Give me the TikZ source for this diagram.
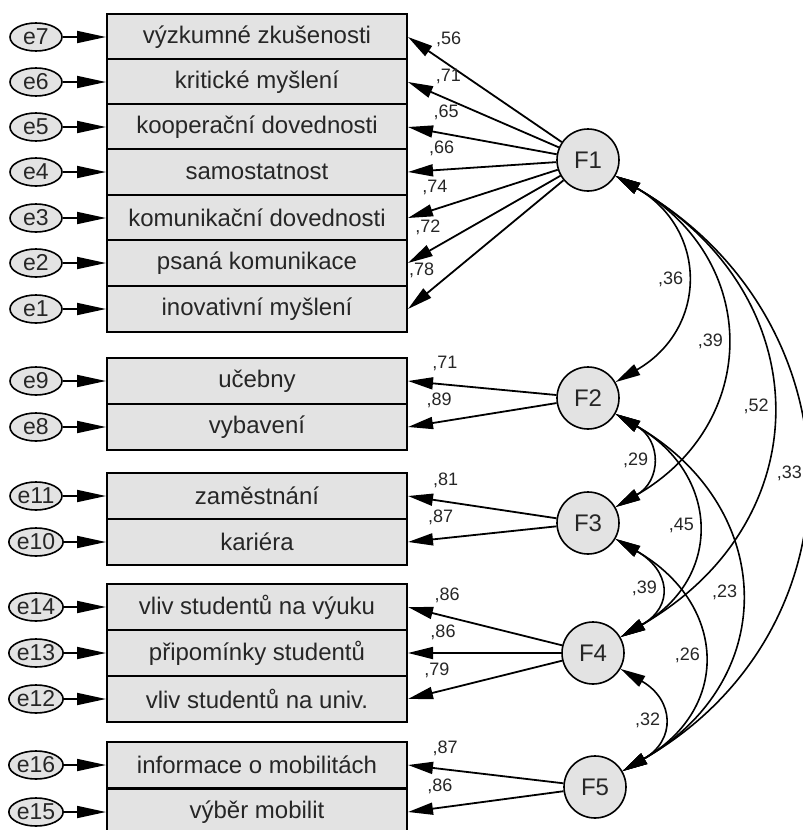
\documentclass[tikz,border=0pt]{standalone}
\usepackage{fontspec}
\setmainfont{Liberation Sans}
\usetikzlibrary{arrows.meta,shapes.geometric,calc}
\tikzset{
  ind/.style={draw, line width=2pt, fill=gray!22, minimum width=300pt, minimum height=45.5pt, inner sep=0pt, text=black!85, font=\fontsize{24}{28}\selectfont},
  err/.style={draw, ellipse, line width=1.6pt, fill=gray!22, minimum width=52pt, minimum height=28pt, inner sep=0pt, text=black!85, font=\fontsize{23}{26}\selectfont},
  fac/.style={draw, circle, line width=1.6pt, fill=gray!22, minimum size=62pt, inner sep=0pt, text=black!85, font=\fontsize{24}{28}\selectfont},
  errarr/.style={line width=1.8pt, -{Triangle[length=29pt,width=12pt]}},
  loadarr/.style={line width=1.8pt, -{Triangle[length=25pt,width=12pt]}},
  cov/.style={line width=1.6pt, {Triangle[length=25pt,width=12pt]}-{Triangle[length=25pt,width=12pt]}},
  wt/.style={inner sep=1pt, text=black!85, font=\fontsize{18}{20}\selectfont}
}
\begin{document}
\begin{tikzpicture}[x=1pt,y=1pt]
  \useasboundingbox (0,0) rectangle (803,-830);
  \foreach \i/\y/\t in {7/37/výzkumné zkušenosti, 6/82/kritické myšlení, 5/127/kooperační dovednosti, 4/172/samostatnost, 3/218/komunikační dovednosti, 2/263/psaná komunikace, 1/309/inovativní myšlení, 9/381/učebny, 8/427/vybavení, 11/496/zaměstnání, 10/542/kariéra, 14/607/vliv studentů na výuku, 13/653/připomínky studentů, 12/699/vliv studentů na univ., 16/765/informace o mobilitách, 15/812/výběr mobilit}{
    \node[ind] (b\i) at (257,-\y) {\t};
    \node[err] (e\i) at (36,-\y) {e\i};
    \draw[errarr] (e\i) -- (b\i);
  }
  \node[fac] (F1) at (588,-160) {F1};
  \node[fac] (F2) at (588,-398) {F2};
  \node[fac] (F3) at (588,-523) {F3};
  \node[fac] (F4) at (593,-653) {F4};
  \node[fac] (F5) at (595,-787) {F5};
  \foreach \f/\i/\w in {F1/7/56, F1/6/71, F1/5/65, F1/4/66, F1/3/74, F1/2/72, F1/1/78, F2/9/71, F2/8/89, F3/11/81, F3/10/87, F4/14/86, F4/13/86, F4/12/79, F5/16/87, F5/15/86}{
    \draw[loadarr] (\f) -- (b\i.east);
    \coordinate (p\i) at ($(b\i.east)!35pt!(\f)$);
    \node[wt] (w\i) at ($(p\i)!21pt!90:(\f)$) {,\w};
  }
  \draw[cov] (F1) to[out=-30,in=30,looseness=1.33] node[wt,left] (c12) {,36} (F2);
  \draw[cov] (F1) to[out=-30,in=30,looseness=1.30] node[wt,left] (c13) {,39} (F3);
  \draw[cov] (F1) to[out=-30,in=30,looseness=1.30] node[wt,left] (c14) {,52} (F4);
  \draw[cov] (F1) to[out=-30,in=30,looseness=1.22] node[wt,left] (c15) {,33} (F5);
  \draw[cov] (F2) to[out=-30,in=30,looseness=1.46] node[wt,left] (c23) {,29} (F3);
  \draw[cov] (F2) to[out=-30,in=30,looseness=1.37] node[wt,left] (c24) {,45} (F4);
  \draw[cov] (F2) to[out=-30,in=30,looseness=1.32] node[wt,left] (c25) {,23} (F5);
  \draw[cov] (F3) to[out=-30,in=30,looseness=1.63] node[wt,left] (c34) {,39} (F4);
  \draw[cov] (F3) to[out=-30,in=30,looseness=1.40] node[wt,left] (c35) {,26} (F5);
  \draw[cov] (F4) to[out=-30,in=30,looseness=1.55] node[wt,left] (c45) {,32} (F5);
\end{tikzpicture}
\end{document}
